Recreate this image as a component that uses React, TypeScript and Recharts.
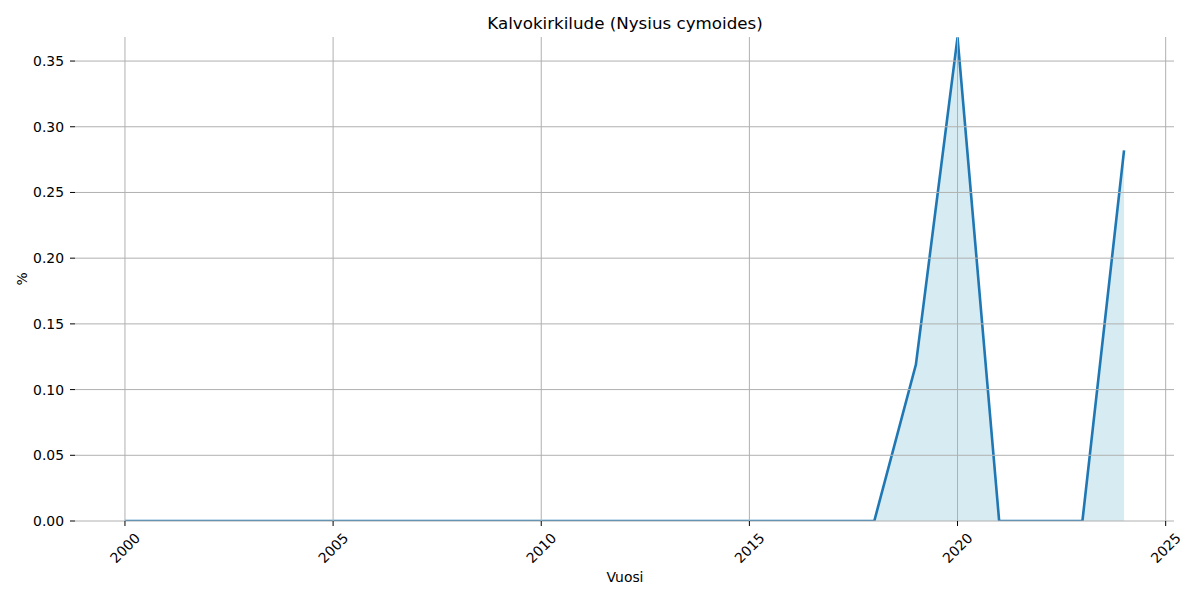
import React from 'react';
import { ComposedChart, Area, XAxis, YAxis, ReferenceLine } from 'recharts';

const years = [
  2000, 2001, 2002, 2003, 2004, 2005, 2006, 2007, 2008, 2009, 2010, 2011, 2012,
  2013, 2014, 2015, 2016, 2017, 2018, 2019, 2020, 2021, 2022, 2023, 2024,
];
const shares = [
  0, 0, 0, 0, 0, 0, 0, 0, 0, 0, 0, 0, 0,
  0, 0, 0, 0, 0, 0, 0.119, 0.368, 0, 0, 0, 0.282,
];
const yearTicks = [2000, 2005, 2010, 2015, 2020, 2025];
const shareTicks = [0, 0.05, 0.1, 0.15, 0.2, 0.25, 0.3, 0.35];

const data = years.map((year, i) => ({ year, share: shares[i] }));

const FONT = '"DejaVu Sans", sans-serif';
const GRID = '#b0b0b0';

const YearTick = (props: any) => {
  const { x, y, payload } = props;
  return (
    <text
      transform={`translate(${x}, ${y + 20}) rotate(-45)`}
      textAnchor="middle"
      dominantBaseline="central"
      fontSize={13.9}
      fontFamily={FONT}
      fill="#000"
    >
      {payload.value}
    </text>
  );
};

export default function App() {
  return (
    <div style={{ position: 'absolute', left: 0, top: 0, width: 1200, height: 600, background: '#fff' }}>
      <ComposedChart
        width={1200}
        height={600}
        data={data}
        margin={{ top: 37, right: 26, bottom: 29, left: 0 }}
      >
        <text x={625} y={29} textAnchor="middle" fontSize={16.7} fontFamily={FONT} fill="#000">
          Kalvokirkilude (Nysius cymoides)
        </text>
        <text x={625} y={582} textAnchor="middle" fontSize={13.9} fontFamily={FONT} fill="#000">
          Vuosi
        </text>
        <text
          transform="translate(22, 279) rotate(-90)"
          textAnchor="middle"
          dominantBaseline="central"
          fontSize={13.9}
          fontFamily={FONT}
          fill="#000"
        >
          %
        </text>
        <XAxis
          dataKey="year"
          type="number"
          domain={[1998.8, 2025.2]}
          ticks={yearTicks}
          allowDataOverflow
          height={50}
          axisLine={false}
          tickLine={{ stroke: '#000' }}
          tickSize={5}
          tick={<YearTick />}
          interval={0}
        />
        <YAxis
          type="number"
          domain={[0, 0.3683]}
          ticks={shareTicks}
          allowDataOverflow
          width={75}
          axisLine={false}
          tickLine={{ stroke: '#000' }}
          tickSize={5}
          tickMargin={6}
          tickFormatter={(v: number) => v.toFixed(2)}
          tick={{ fill: '#000', fontSize: 13.9, fontFamily: FONT }}
          interval={0}
        />
        {shareTicks.map((t) => (
          <ReferenceLine key={`h${t}`} y={t} stroke={GRID} strokeWidth={1} />
        ))}
        {yearTicks.map((t) => (
          <ReferenceLine key={`v${t}`} x={t} stroke={GRID} strokeWidth={1} />
        ))}
        <Area
          type="linear"
          dataKey="share"
          stroke="#1f77b4"
          strokeWidth={2.6}
          fill="#add8e6"
          fillOpacity={0.5}
          dot={false}
          activeDot={false}
          isAnimationActive={false}
        />
      </ComposedChart>
    </div>
  );
}
